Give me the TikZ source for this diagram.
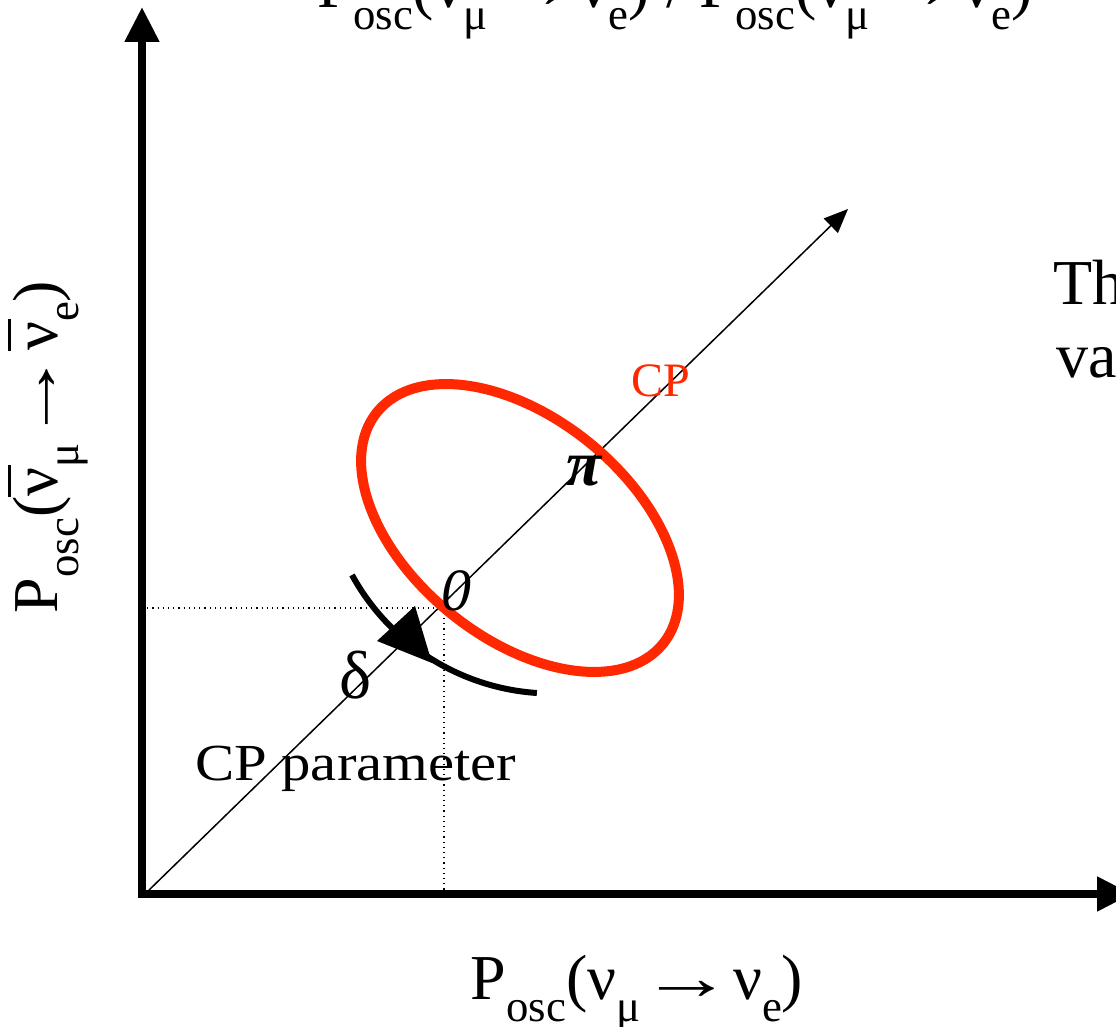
\documentclass[tikz,border=0pt]{standalone}
\usepackage{fontspec}
\setmainfont{Liberation Serif}
\usetikzlibrary{positioning,calc,arrows.meta}
\definecolor{cpred}{RGB}{255,40,0}
\newcommand{\lowtx}[1]{\raisebox{-0.34em}{\scalebox{0.7}{#1}}}
\newcommand{\barnu}{\makebox[0pt][l]{\raisebox{0.72em}{\rule{0.5em}{0.04em}}}ν}
\newcommand{\longto}{\scalebox{1.45}[1]{→}}

\begin{document}
\begin{tikzpicture}[x=0.5pt, y=-0.5pt, every node/.style={inner sep=0pt, outer sep=0pt}]
  \tikzstyle{axis}=[line width=4pt, line join=miter, {Triangle[length=17.5pt, width=16.5pt]}-{Triangle[length=17.5pt, width=16.5pt]}]
  \tikzstyle{biglabel}=[font=\fontsize{32}{38}\selectfont]
  \tikzstyle{midlabel}=[font=\fontsize{24}{29}\selectfont]
  \useasboundingbox (0,0) rectangle (1116,1027);
  \clip (0,0) rectangle (1116,1027);
  % axes
  \coordinate (O) at (142,894);
  \coordinate (ytip) at (142,7);
  \coordinate (xtip) at (1132,894);
  \draw[axis] (ytip) -- (O) -- (xtip);
  % CP axis and projections
  \coordinate (cp0) at (146,893);
  \coordinate (cpend) at (848,209);
  \draw[line width=0.75pt, -{Triangle[length=12pt, width=10pt]}] (cp0) -- (cpend);
  \coordinate (pt) at (444,608);
  \draw[dotted, line width=0.6pt] (pt -| O) -- (pt) -- (pt |- O);
  % CP ellipse
  \draw[cpred, line width=5pt, rotate around={-39:(520,528)}] (520,528) ellipse (184 and 110);
  % delta arrow
  \draw[line width=3pt] (352,575) arc[start angle=151.3, end angle=93.8, radius=228];
  \fill (432,663) -- (415,606) -- (377,641) -- cycle;
  % labels
  \node[biglabel, anchor=base] (xlab) at (637,1000) {P\lowtx{osc}(ν\lowtx{μ}\longto ν\lowtx{e})};
  \node[biglabel, anchor=base, rotate=90] (ylab) at (57,447) {P\lowtx{osc}(\barnu\lowtx{μ}\longto\barnu\lowtx{e})};
  \node[biglabel, anchor=base] (title) at (675,8) {P\lowtx{osc}(ν\lowtx{μ}\longto ν\lowtx{e}) / P\lowtx{osc}(\barnu\lowtx{μ}\longto\barnu\lowtx{e})};
  \node[font=\fontsize{30}{36}\selectfont\itshape] (zero) at (456,591) {0};
  \node[font=\fontsize{32}{38}\selectfont\bfseries\itshape] (pilab) at (584,471) {π};
  \node[font=\fontsize{34}{40}\selectfont] (dlab) at (356,675) {δ};
  \node[midlabel, text=cpred] (cplab) at (661,381) {CP};
  \node[font=\fontsize{26}{31}\selectfont, anchor=base west] (cppar) at (195,781) {\scalebox{1.13}[1]{CP parameter}};
  \node[biglabel, anchor=base west] (rtxt1) at (1053,305) {Th};
  \node[biglabel, anchor=base west] (rtxt2) at (1056,378) {vac};
\end{tikzpicture}
\end{document}
